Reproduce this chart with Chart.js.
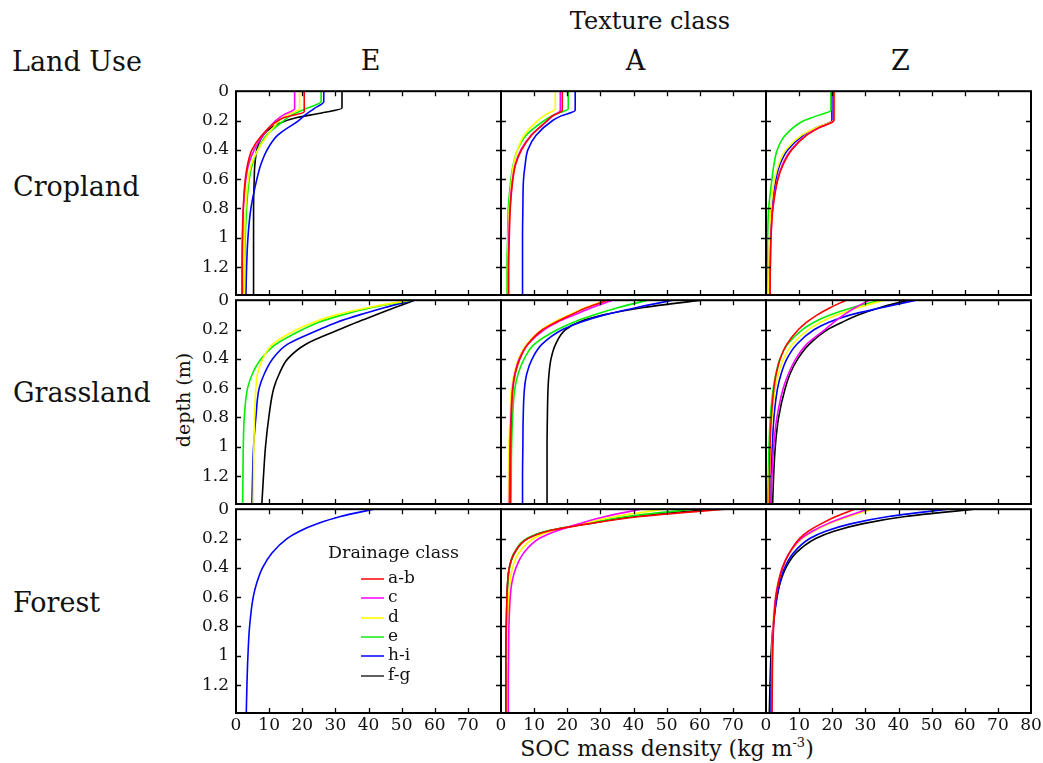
<!DOCTYPE html>
<html>
<head>
<meta charset="utf-8">
<script src="https://cdn.jsdelivr.net/npm/chart.js@4.4.0/dist/chart.umd.min.js"></script>
<style>
  body { margin: 0; background: #fff; width: 1043px; height: 763px; overflow: hidden; position: relative;
         font-family: 'DejaVu Serif', serif; color: #111; }
  .lbl { position: absolute; white-space: nowrap; line-height: 1; }
  .big { font-size: 27px; }
  canvas { position: absolute; }
  .leg { position: absolute; font-size: 17px; line-height: 1; white-space: nowrap; }
  .legline { position: absolute; height: 2px; width: 23px; }
</style>
</head>
<body>
<script>
// categories
const landUses = ['Cropland', 'Grassland', 'Forest'];
const textures = ['E', 'A', 'Z'];
const drainage = ['a-b', 'c', 'd', 'e', 'h-i', 'f-g'];
const colors = ['#ff0000', '#ff00ff', '#ffff00', '#00ee00', '#0000ff', '#000000'];
const legendColors = ['#ff4040', '#ff40ff', '#ffff30', '#50ee50', '#4040ff', '#606060'];

// tick labels
const xTicks = [0, 10, 20, 30, 40, 50, 60, 70, 80];
const yTicks = [0, 0.2, 0.4, 0.6, 0.8, 1, 1.2];
const yMax = 1.39;

// depth grid (m) used by grassland / forest profiles
const depthGrid = [0, 0.05, 0.1, 0.15, 0.2, 0.3, 0.4, 0.5, 0.6, 0.8, 1.0, 1.2, 1.39];

// cropland profiles: [depth, SOC] pairs (plough layer is constant)
const cropE = {
  'a-b': [[0, 20.6], [0.14, 20.6], [0.18, 14.5], [0.22, 11.5], [0.3, 7.8], [0.4, 4.8], [0.5, 3.5], [0.6, 2.8], [0.8, 2.2], [1.0, 2.0], [1.2, 1.9], [1.39, 1.9]],
  'c':   [[0, 17.7], [0.12, 17.7], [0.16, 14.5], [0.2, 12.0], [0.3, 8.2], [0.4, 5.5], [0.5, 3.8], [0.6, 3.0], [0.8, 2.2], [1.0, 1.9], [1.2, 1.8], [1.39, 1.8]],
  'd':   [[0, 19.2], [0.12, 19.2], [0.16, 15.5], [0.2, 13.2], [0.3, 9.5], [0.4, 6.6], [0.5, 4.6], [0.6, 3.7], [0.8, 2.9], [1.0, 2.6], [1.2, 2.5], [1.39, 2.5]],
  'e':   [[0, 25.7], [0.07, 25.7], [0.12, 21.0], [0.16, 17.0], [0.2, 14.5], [0.3, 9.2], [0.4, 6.6], [0.5, 4.9], [0.6, 4.0], [0.8, 3.2], [1.0, 2.8], [1.2, 2.6], [1.39, 2.5]],
  'h-i': [[0, 26.5], [0.07, 26.5], [0.12, 23.5], [0.16, 21.0], [0.2, 18.9], [0.3, 12.6], [0.4, 9.4], [0.5, 7.5], [0.6, 6.3], [0.8, 4.5], [1.0, 3.6], [1.2, 3.2], [1.39, 3.0]],
  'f-g': [[0, 32.0], [0.115, 32.0], [0.15, 25.5], [0.18, 18.4], [0.22, 13.0], [0.27, 9.4], [0.36, 6.8], [0.5, 5.7], [0.6, 5.5], [0.8, 5.3], [1.0, 5.3], [1.2, 5.3], [1.39, 5.3]]
};
const cropA = {
  'a-b': [[0, 18.5], [0.13, 18.5], [0.17, 15.5], [0.2, 14.0], [0.3, 9.2], [0.4, 6.2], [0.5, 4.4], [0.6, 3.6], [0.8, 2.8], [1.0, 2.5], [1.2, 2.3], [1.39, 2.3]],
  'c':   [[0, 17.9], [0.13, 17.9], [0.17, 15.5], [0.2, 14.1], [0.3, 9.1], [0.4, 6.0], [0.5, 4.3], [0.6, 3.5], [0.8, 2.7], [1.0, 2.4], [1.2, 2.2], [1.39, 2.2]],
  'd':   [[0, 16.4], [0.12, 16.4], [0.16, 13.5], [0.2, 11.1], [0.3, 7.0], [0.4, 5.0], [0.5, 3.8], [0.6, 3.2], [0.8, 2.5], [1.0, 2.2], [1.2, 2.0], [1.39, 2.0]],
  'e':   [[0, 20.3], [0.12, 20.3], [0.16, 16.0], [0.2, 13.1], [0.3, 7.6], [0.4, 5.0], [0.5, 3.7], [0.6, 3.0], [0.8, 2.2], [1.0, 2.0], [1.2, 1.8], [1.39, 1.8]],
  'h-i': [[0, 22.4], [0.13, 22.4], [0.17, 18.0], [0.2, 15.6], [0.3, 10.6], [0.4, 8.1], [0.5, 7.3], [0.6, 6.8], [0.8, 6.6], [1.0, 6.5], [1.2, 6.5], [1.39, 6.5]]
};
const cropZ = {
  'a-b': [[0, 20.5], [0.2, 20.5], [0.25, 16.0], [0.3, 12.3], [0.4, 7.8], [0.5, 5.2], [0.6, 3.6], [0.8, 2.1], [1.0, 1.5], [1.2, 1.3], [1.39, 1.2]],
  'c':   [[0, 20.4], [0.2, 20.4], [0.25, 15.8], [0.3, 12.1], [0.4, 7.6], [0.5, 5.0], [0.6, 3.5], [0.8, 2.0], [1.0, 1.5], [1.2, 1.3], [1.39, 1.2]],
  'd':   [[0, 20.8], [0.19, 20.8], [0.25, 15.0], [0.3, 10.8], [0.4, 6.0], [0.5, 3.8], [0.6, 2.6], [0.8, 1.5], [1.0, 1.1], [1.2, 0.9], [1.39, 0.8]],
  'e':   [[0, 19.6], [0.13, 19.6], [0.17, 15.0], [0.2, 11.5], [0.3, 5.8], [0.4, 3.4], [0.5, 2.4], [0.6, 1.8], [0.8, 0.8], [1.0, 0.5], [1.2, 0.3], [1.39, 0.2]],
  'h-i': [[0, 19.9], [0.2, 19.9], [0.25, 15.0], [0.3, 11.3], [0.4, 6.6], [0.5, 4.2], [0.6, 3.0], [0.8, 1.8], [1.0, 1.2], [1.2, 1.0], [1.39, 0.8]]
};

// grassland profiles, SOC at depthGrid
const grassE = {
  'd':   [52.4, 40.0, 30.2, 23.5, 18.4, 11.1, 8.1, 6.5, 6.0, 5.6, 5.4, 5.3, 5.2],
  'e':   [52.9, 41.0, 32.2, 25.0, 20.1, 12.1, 7.6, 5.0, 3.5, 2.5, 2.2, 2.1, 2.0],
  'h-i': [53.4, 45.0, 37.3, 30.5, 25.2, 15.6, 11.1, 8.6, 7.0, 6.0, 5.3, 5.0, 4.8],
  'f-g': [53.9, 48.0, 42.3, 36.5, 31.2, 21.1, 15.6, 13.1, 11.4, 9.9, 8.9, 8.3, 7.8]
};
const grassA = {
  'a-b': [32.2, 26.0, 21.1, 16.5, 12.6, 8.1, 5.7, 4.3, 3.6, 3.1, 2.9, 2.8, 2.8],
  'c':   [33.7, 27.5, 22.2, 17.0, 13.1, 8.1, 5.5, 4.2, 3.5, 3.0, 2.7, 2.6, 2.5],
  'd':   [31.7, 25.5, 20.6, 16.0, 12.3, 7.7, 5.3, 4.0, 3.2, 2.7, 2.4, 2.3, 2.2],
  'e':   [44.3, 35.5, 28.2, 22.0, 17.1, 10.1, 7.0, 5.2, 4.2, 3.5, 3.2, 3.1, 3.0],
  'h-i': [51.9, 41.0, 31.2, 24.0, 18.6, 12.4, 9.4, 7.8, 7.1, 6.7, 6.6, 6.5, 6.5],
  'f-g': [60.4, 43.0, 31.0, 23.5, 19.5, 16.5, 15.1, 14.5, 14.2, 14.0, 13.9, 13.9, 13.9]
};
const grassZ = {
  'a-b': [24.2, 19.5, 15.5, 12.3, 9.8, 6.3, 4.3, 3.1, 2.4, 1.6, 1.2, 1.1, 1.0],
  'c':   [31.2, 27.0, 23.5, 20.5, 17.8, 12.3, 9.0, 6.8, 5.2, 3.3, 2.3, 1.8, 1.5],
  'd':   [35.7, 28.0, 21.5, 16.5, 12.8, 8.0, 5.3, 3.8, 2.8, 1.8, 1.3, 1.0, 0.8],
  'e':   [34.7, 26.2, 19.5, 14.5, 11.0, 6.5, 4.2, 3.0, 2.2, 1.3, 0.9, 0.7, 0.5],
  'h-i': [45.3, 35.2, 25.5, 19.0, 14.6, 9.3, 6.3, 4.6, 3.5, 2.4, 1.9, 1.6, 1.5],
  'f-g': [43.0, 34.5, 28.0, 23.0, 18.6, 13.1, 9.6, 7.3, 5.8, 3.8, 2.8, 2.3, 2.0]
};

// forest profiles, SOC at depthGrid
const forestE = {
  'h-i': [41.6, 31.5, 24.5, 19.2, 15.4, 10.8, 8.0, 6.3, 5.2, 4.1, 3.6, 3.3, 3.1]
};
const forestA = {
  'a-b': [67.5, 42.0, 26.2, 14.1, 8.1, 4.0, 2.5, 2.0, 1.8, 1.6, 1.5, 1.5, 1.5],
  'c':   [42.3, 31.5, 23.5, 16.5, 11.5, 6.8, 4.5, 3.3, 2.8, 2.4, 2.3, 2.2, 2.2],
  'd':   [49.3, 34.5, 24.5, 15.0, 9.8, 5.3, 3.5, 2.7, 2.3, 2.1, 2.0, 2.0, 2.0],
  'e':   [58.0, 38.0, 25.2, 13.6, 7.8, 3.9, 2.6, 2.1, 1.9, 1.8, 1.8, 1.8, 1.8],
  'f-g': [64.0, 40.5, 26.0, 14.0, 8.0, 4.1, 2.5, 2.0, 1.8, 1.6, 1.5, 1.5, 1.5]
};
const forestZ = {
  'a-b': [26.7, 21.1, 16.6, 12.8, 10.1, 7.0, 5.0, 3.8, 3.0, 2.3, 2.0, 1.9, 1.8],
  'c':   [30.7, 24.2, 18.5, 14.0, 10.6, 7.0, 4.9, 3.7, 2.9, 2.2, 1.9, 1.8, 1.8],
  'd':   [32.2, 25.0, 19.0, 14.4, 10.9, 7.1, 4.9, 3.6, 2.8, 2.1, 1.8, 1.7, 1.7],
  'h-i': [54.9, 37.0, 25.5, 18.0, 13.2, 8.2, 5.6, 4.2, 3.3, 2.2, 1.7, 1.5, 1.3],
  'f-g': [62.9, 42.0, 29.0, 20.5, 15.0, 9.0, 6.0, 4.3, 3.3, 2.1, 1.5, 1.2, 1.0]
};

const panelData = [
  [cropE, cropA, cropZ],
  [grassE, grassA, grassZ],
  [forestE, forestA, forestZ]
];

// layout (page pixels)
const colLeft = [236, 501, 766];
const rowTop = [86, 295, 504];
const panelW = 265, panelH = 209;
const padL = 50, padR = 14, padT = 12, padB = 30;

function toPoints(series) {
  if (Array.isArray(series[0])) return series.map(p => ({ x: p[1], y: p[0] }));
  return depthGrid.map((d, i) => ({ x: series[i], y: d }));
}

// frame + inward tick marks on all four sides
const framePlugin = {
  id: 'frame',
  afterDatasetsDraw(chart) {
    const { ctx, chartArea: a, scales: { x, y } } = chart;
    const tl = 5;
    ctx.save();
    ctx.strokeStyle = '#000';
    ctx.lineWidth = 1.3;
    ctx.beginPath();
    xTicks.forEach(v => {
      if (v <= 0 || v >= 80) return;
      const px = Math.round(x.getPixelForValue(v)) + 0.5;
      ctx.moveTo(px, a.top); ctx.lineTo(px, a.top + tl);
      ctx.moveTo(px, a.bottom); ctx.lineTo(px, a.bottom - tl);
    });
    yTicks.forEach(v => {
      if (v <= 0) return;
      const py = Math.round(y.getPixelForValue(v)) + 0.5;
      ctx.moveTo(a.left, py); ctx.lineTo(a.left + tl, py);
      ctx.moveTo(a.right, py); ctx.lineTo(a.right - tl, py);
    });
    ctx.stroke();
    ctx.lineWidth = 2;
    ctx.strokeRect(a.left, a.top, a.right - a.left, a.bottom - a.top);
    ctx.restore();
  }
};

const xFont = { family: "'DejaVu Serif', serif", size: 17 };
const yFont = { family: "'DejaVu Serif', serif", size: 17 };

function makeChart(r, c) {
  const data = panelData[r][c];
  const W = panelW + padL + padR, H = panelH + padT + padB;
  const cv = document.createElement('canvas');
  cv.width = W; cv.height = H;
  cv.style.left = (colLeft[c] - padL) + 'px';
  cv.style.top = (rowTop[r] - padT) + 'px';
  cv.style.width = W + 'px';
  cv.style.height = H + 'px';
  document.body.appendChild(cv);

  const datasets = drainage.filter(k => data[k]).map(k => ({
    label: k,
    data: toPoints(data[k]),
    borderColor: colors[drainage.indexOf(k)],
    borderWidth: 1.6,
    pointRadius: 0,
    fill: false,
    cubicInterpolationMode: 'monotone'
  }));

  new Chart(cv, {
    type: 'line',
    data: { datasets },
    options: {
      indexAxis: 'y',
      responsive: false,
      animation: false,
      events: [],
      layout: { padding: { left: 0, top: padT, right: padR, bottom: 0 } },
      plugins: { legend: { display: false }, tooltip: { enabled: false } },
      scales: {
        x: {
          type: 'linear', position: 'bottom', min: 0, max: 80,
          grid: { display: false, drawTicks: false },
          border: { display: false },
          afterBuildTicks: s => { s.ticks = xTicks.map(v => ({ value: v })); },
          afterFit: s => { s.height = padB; },
          ticks: {
            autoSkip: false, maxRotation: 0, padding: 2, color: '#111', font: xFont,
            callback: v => (r === 2 && (c === 2 || v < 80)) ? String(v) : ''
          }
        },
        y: {
          type: 'linear', position: 'left', min: 0, max: yMax, reverse: true,
          grid: { display: false, drawTicks: false },
          border: { display: false },
          afterBuildTicks: s => { s.ticks = yTicks.map(v => ({ value: v })); },
          afterFit: s => { s.width = padL; },
          ticks: {
            autoSkip: false, padding: 7, color: '#111', font: yFont,
            callback: v => c === 0 ? String(v) : ''
          }
        }
      }
    },
    plugins: [framePlugin]
  });
}

function addLabel(text, css, cls) {
  const d = document.createElement('div');
  d.className = 'lbl ' + (cls || '');
  d.innerHTML = text;
  Object.assign(d.style, css);
  document.body.appendChild(d);
  return d;
}

// headers
addLabel('Texture class', { left: '650px', top: '9px', fontSize: '24px', transform: 'translateX(-50%)' });
addLabel('Land Use', { left: '12px', top: '48px' }, 'big');
textures.forEach((t, c) => {
  addLabel(t, { left: (colLeft[c] + panelW / 2 + 2) + 'px', top: '47px', transform: 'translateX(-50%)' }, 'big');
});
const rowLabelTop = [173, 379, 589];
landUses.forEach((u, r) => addLabel(u, { left: '13px', top: rowLabelTop[r] + 'px' }, 'big'));

addLabel('depth (m)', { left: '183px', top: '400px', fontSize: '19px',
  transform: 'translate(-50%, -50%) rotate(-90deg)' });
addLabel('SOC mass density (kg m<sup style="font-size:13px">-3</sup>)',
  { left: '667px', top: '748px', fontSize: '22px', transform: 'translate(-50%, -50%)' });

for (let r = 0; r < 3; r++) for (let c = 0; c < 3; c++) makeChart(r, c);

// legend inside the Forest / E panel
const legTitle = document.createElement('div');
legTitle.className = 'leg';
legTitle.textContent = 'Drainage class';
Object.assign(legTitle.style, { left: '328px', top: '544px', fontSize: '17.5px' });
document.body.appendChild(legTitle);
const legRowY = [579, 598, 618, 637, 656, 676];
drainage.forEach((k, i) => {
  const ln = document.createElement('div');
  ln.className = 'legline';
  Object.assign(ln.style, { left: '361px', top: (legRowY[i] - 1) + 'px', background: legendColors[i] });
  document.body.appendChild(ln);
  const tx = document.createElement('div');
  tx.className = 'leg';
  tx.textContent = k;
  Object.assign(tx.style, { left: '388px', top: (legRowY[i] - 10) + 'px' });
  document.body.appendChild(tx);
});
</script>
</body>
</html>
